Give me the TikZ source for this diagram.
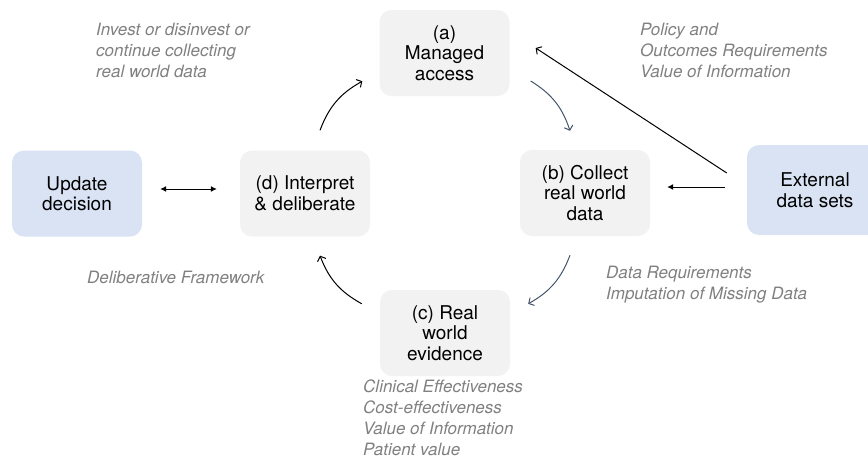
\documentclass[tikz,border=0pt]{standalone}
\usepackage{fontspec}
\setmainfont{TeX Gyre Heros}
\usetikzlibrary{arrows.meta}
\definecolor{boxgray}{HTML}{F2F2F2}
\definecolor{boxblue}{HTML}{DAE3F3}
\definecolor{arrowblue}{HTML}{44546A}
\definecolor{notegray}{HTML}{808080}
\begin{document}
\begin{tikzpicture}[x=1pt,y=1pt,
	stage/.style={fill=boxgray, rounded corners=12pt, minimum width=130pt, minimum height=86pt, align=center, inner sep=0pt, font=\fontsize{19}{20.5}\selectfont},
	outer/.style={stage, fill=boxblue},
	note/.style={anchor=west, align=left, inner sep=0pt, text=notegray, font=\fontsize{17}{21}\selectfont\itshape},
	cyc/.style={line width=1pt, -{Straight Barb[length=4pt,width=9pt]}},
	flow/.style={line width=1pt, -{Latex[length=6pt,width=6pt]}}]
	\clip (0,0) rectangle (868,-459);
	\node [stage] (a) at (444.5,-53) {(a)\\Managed\\access};
	\node [stage] (b) at (585,-193) {(b) Collect\\real world\\data};
	\node [stage] (c) at (445,-333) {(c) Real\\world\\evidence};
	\node [stage] (d) at (305,-193.5) {(d) Interpret\\\& deliberate};
	\node [outer] (upd) at (77,-193.5) {Update\\decision};
	\node [outer, minimum width=136pt, minimum height=90pt] (ext) at (815,-190) {External\\data sets};
	\node [note] (invest) at (96,-50) {Invest or disinvest or\\continue collecting\\real world data};
	\node [note] (policy) at (640,-50) {Policy and\\Outcomes Requirements\\Value of Information};
	\node [note] (delib) at (87,-277) {Deliberative Framework};
	\node [note] (datareq) at (606,-284.5) {Data Requirements\\Imputation of Missing Data};
	\node [note] (clin) at (363,-418) {Clinical Effectiveness\\Cost-effectiveness\\Value of Information\\Patient value};
	\draw [cyc, arrowblue] ([shift={(21,-28)}]a.east) to[bend left=20] ([shift={(-15,19)}]b.north);
	\draw [cyc, arrowblue] ([shift={(-15,-19)}]b.south) to[bend left=20] ([shift={(18,-14)}]c.north east);
	\draw [cyc] ([shift={(-18,-14)}]c.north west) to[bend left=20] ([shift={(15,-19)}]d.south);
	\draw [cyc] ([shift={(15,20)}]d.north) to[bend left=20] ([shift={(-17,15)}]a.south west);
	\draw [cyc] ([shift={(-20,17)}]ext.west) -- ([shift={(26,5)}]a.east);
	\draw [flow] ([shift={(-22,3)}]ext.west) -- ([shift={(17,6)}]b.east);
	\draw [flow, {Latex[length=6pt,width=6pt]}-{Latex[length=6pt,width=6pt]}] ([shift={(18,4.5)}]upd.east) -- ([shift={(-23,4.5)}]d.west);
\end{tikzpicture}
\end{document}
